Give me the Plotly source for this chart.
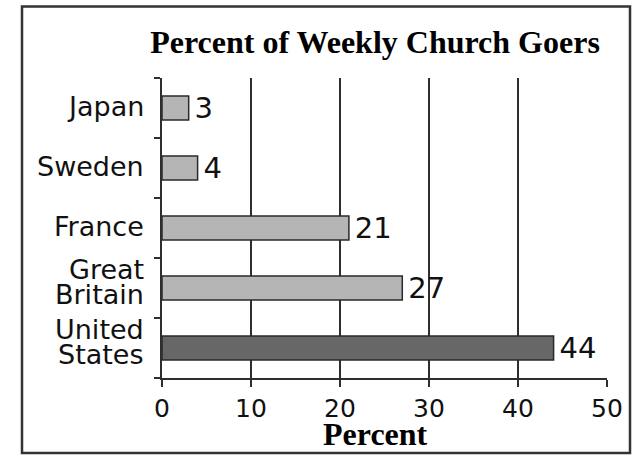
import plotly.graph_objects as go

countries = ["United<br>States", "Great<br>Britain", "France", "Sweden", "Japan"]
values = [44, 27, 21, 4, 3]
bar_colors = ["#676767", "#b5b5b5", "#b5b5b5", "#b5b5b5", "#b5b5b5"]
x_ticks = [0, 10, 20, 30, 40, 50]
title_text = "Percent of Weekly Church Goers"
x_title = "Percent"

W, H = 635, 455
L, R, T, B = 162, 28, 78, 77
pw, ph = W - L - R, H - T - B

fig = go.Figure()
fig.add_trace(go.Bar(
    x=values, y=countries, orientation="h", width=0.4,
    marker=dict(color=bar_colors, line=dict(color="#2a2a2a", width=1.5)),
    text=[str(v) for v in values], texttemplate="\u200a%{text}",
    textposition="outside", constraintext="none",
    textfont=dict(family="DejaVu Sans", size=29, color="#111"),
    cliponaxis=False, hoverinfo="skip",
))

# category labels as separate lines (tight line spacing)
annotations = []
for c in countries:
    lines = c.split("<br>")
    n = len(lines)
    pitch = 25
    extra = 6 if n > 1 else 2
    for i, ln in enumerate(lines):
        shift = ((n - 1) / 2 - i) * pitch + extra
        annotations.append(dict(
            x=0, xref="paper", y=c, yref="y", text=ln, showarrow=False,
            xanchor="right", yanchor="middle", xshift=-16, yshift=shift,
            font=dict(family="DejaVu Sans", size=27, color="#111"),
        ))

annotations.append(dict(
    x=(375 - L) / pw, xref="paper", y=(T + ph - 434) / ph, yref="paper",
    text="<b>" + x_title + "</b>", showarrow=False, xanchor="center", yanchor="middle",
    font=dict(family="Liberation Serif", size=32, color="#000"),
))

fig.update_layout(
    width=W, height=H, margin=dict(l=L, r=R, t=T, b=B),
    paper_bgcolor="white", plot_bgcolor="white",
    showlegend=False,
    title=dict(text="<b>" + title_text + "</b>", x=375 / W, xanchor="center",
               y=1 - 42 / H, yanchor="middle", xref="container", yref="container",
               font=dict(family="Liberation Serif", size=32, color="#000")),
    xaxis=dict(range=[0, 50], tickvals=x_ticks, showgrid=True, gridcolor="#2e2e2e",
               gridwidth=2, showline=True, linecolor="#2e2e2e", linewidth=2,
               ticks="outside", ticklen=7, tickwidth=2, tickcolor="#2e2e2e",
               tickfont=dict(family="DejaVu Sans", size=25, color="#111"),
               zeroline=False, fixedrange=True),
    yaxis=dict(categoryorder="array", categoryarray=countries, showticklabels=False,
               showline=True, linecolor="#2e2e2e", linewidth=2, ticks="outside",
               tickson="boundaries", ticklen=6, tickwidth=2, tickcolor="#2e2e2e",
               showgrid=False, fixedrange=True),
    bargap=0.6,
    annotations=annotations,
    shapes=[dict(type="rect", xref="paper", yref="paper",
                 x0=(22 - L) / pw, x1=(630 - L) / pw,
                 y0=(T + ph - 453) / ph, y1=(T + ph - 6.5) / ph,
                 line=dict(color="#333", width=2.5), layer="below")],
)
fig.write_html("out.html", config={"displayModeBar": False},
               post_script="document.body.style.margin='0';document.body.style.overflow='hidden';")
